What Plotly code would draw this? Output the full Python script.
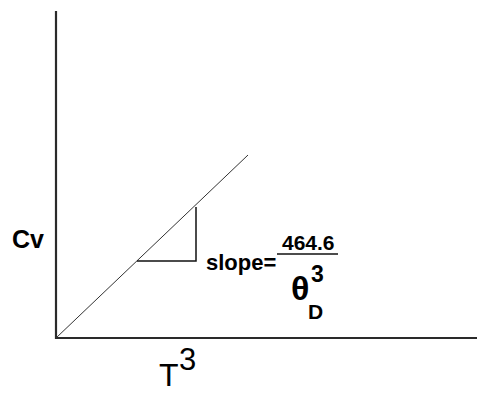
import plotly.graph_objects as go

# schematic in plot units (origin at the axes corner)
axes_x = [0, 0, 4.21]
axes_y = [3.27, 0, 0]

fit_x = [0, 1.92]
fit_y = [0, 1.83]

tri_x = [0.81, 1.40, 1.40]
tri_y = [0.77, 0.77, 1.31]

frac_x = [2.21, 2.82]
frac_y = [0.84, 0.84]

FAMILY = "Liberation Sans, Arial, sans-serif"
BOLD = dict(family=FAMILY, color="black", weight="bold")

fig = go.Figure()

fig.add_trace(go.Scatter(
    x=axes_x, y=axes_y, mode="lines",
    line=dict(color="#2a2a2a", width=2.2),
    hoverinfo="skip",
))
fig.add_trace(go.Scatter(
    x=fit_x, y=fit_y, mode="lines",
    line=dict(color="#333333", width=1),
    hoverinfo="skip",
))
fig.add_trace(go.Scatter(
    x=tri_x, y=tri_y, mode="lines",
    line=dict(color="#111111", width=1.5),
    hoverinfo="skip",
))
fig.add_trace(go.Scatter(
    x=frac_x, y=frac_y, mode="lines",
    line=dict(color="#111111", width=1.5),
    hoverinfo="skip",
))

labels = [
    dict(text="Cv", x=-0.45, y=0.99, xanchor="left", font=dict(BOLD, size=25)),
    dict(text="slope=", x=1.49, y=0.76, xanchor="left", font=dict(BOLD, size=22)),
    dict(text="464.6", x=2.52, y=0.96, xanchor="center", font=dict(BOLD, size=21)),
    dict(text="θ", x=2.44, y=0.50, xanchor="center", font=dict(BOLD, size=34)),
    dict(text="3", x=2.61, y=0.64, xanchor="center", font=dict(BOLD, size=23)),
    dict(text="D", x=2.59, y=0.27, xanchor="center", font=dict(BOLD, size=21)),
    dict(text="T", x=1.13, y=-0.37, xanchor="center",
         font=dict(family=FAMILY, size=32, color="black")),
    dict(text="3", x=1.31, y=-0.21, xanchor="center",
         font=dict(family=FAMILY, size=31, color="black")),
]
for lab in labels:
    fig.add_annotation(xref="x", yref="y", yanchor="middle", showarrow=False,
                       borderpad=0, **lab)

fig.update_layout(
    width=477,
    height=394,
    margin=dict(l=0, r=0, t=0, b=0),
    paper_bgcolor="white",
    plot_bgcolor="white",
    showlegend=False,
    xaxis=dict(range=[-0.56, 4.21], visible=False, fixedrange=True),
    yaxis=dict(range=[-0.56, 3.38], visible=False, fixedrange=True),
)

fig.write_html("out.html", config={"displayModeBar": False},
               post_script="document.body.style.margin='0';")
